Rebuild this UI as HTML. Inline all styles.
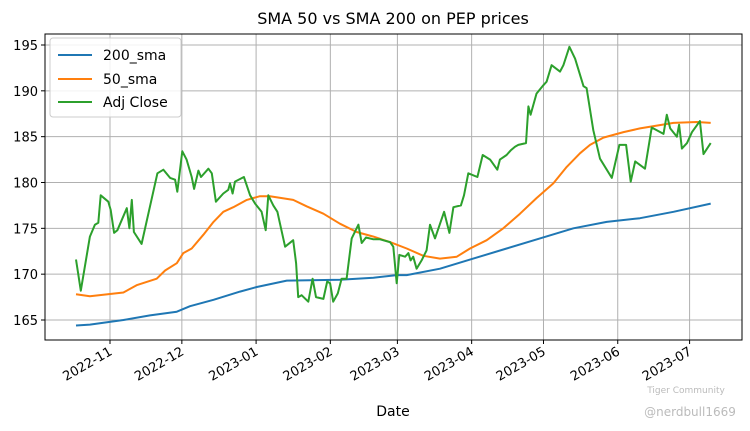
<!DOCTYPE html>
<html><head><meta charset="utf-8">
<style>
body{margin:0;background:#fff;}
svg{display:block;font-family:"DejaVu Sans","Liberation Sans",sans-serif;}
</style></head>
<body>
<svg id="chart" width="750" height="431" viewBox="0 0 750 431" xmlns="http://www.w3.org/2000/svg">
<text x="393" y="24" text-anchor="middle" font-size="16" fill="#000">SMA 50 vs SMA 200 on PEP prices</text>
<g id="grid"></g>
<g id="series"></g>
<rect x="45" y="34" width="697" height="306" fill="none" stroke="#000" stroke-width="1"/>
<g id="axes"></g>
<g>
<rect x="50" y="38" width="131" height="79" rx="3" fill="#fff" fill-opacity="0.85" stroke="#ccc"/>
<line x1="58" y1="55" x2="92" y2="55" stroke="#1f77b4" stroke-width="2"/>
<text x="103" y="60" font-size="14">200_sma</text>
<line x1="58" y1="79" x2="92" y2="79" stroke="#ff7f0e" stroke-width="2"/>
<text x="103" y="84" font-size="14">50_sma</text>
<line x1="58" y1="102" x2="92" y2="102" stroke="#2ca02c" stroke-width="2"/>
<text x="103" y="107" font-size="14">Adj Close</text>
</g>
<text x="393" y="416" text-anchor="middle" font-size="14">Date</text>
<text x="686" y="393" text-anchor="middle" font-size="9" fill="#bbb">Tiger Community</text>
<text x="690" y="416" text-anchor="middle" font-size="12" fill="#bbb">@nerdbull1669</text>
</svg>
<script>
// day offsets relative to 2022-11-01
const closeDays=[-14.2,-12.2,-8.4,-6.3,-4.9,-3.9,-0.7,0.3,1.7,3.1,7.0,8.1,9.1,10.0,13.2,19.8,22.3,25.1,27.2,28.1,30.2,32.0,34.1,35.1,36.9,38.0,41.1,42.5,44.2,47.3,49.4,50.1,51.2,52.2,55.9,58.5,60.6,63.3,65.0,66.1,68.2,69.9,71.0,73.1,76.5,77.7,78.6,80.0,82.8,84.6,86.0,89.1,90.7,91.9,93.2,95.1,96.7,98.8,100.9,103.7,105.1,106.9,110.0,112.7,116.9,118.3,119.7,120.8,123.2,124.6,125.5,126.6,128.0,130.1,132.2,133.6,135.7,139.5,141.7,143.4,146.5,147.8,149.6,153.4,155.6,158.7,161.7,162.8,165.6,167.3,169.1,170.5,173.7,174.7,175.6,178.1,180.9,182.3,184.4,187.9,189.3,191.8,194.2,197.7,199.0,201.8,204.6,209.5,212.7,215.5,217.4,219.3,223.4,226.2,231.1,232.5,233.9,236.7,237.6,238.8,240.9,243.0,246.3,247.8,250.8];
const closeVals=[171.6,168.2,174.1,175.4,175.6,178.6,177.9,177.0,174.5,174.8,177.2,175.0,178.1,174.6,173.3,181.0,181.4,180.5,180.3,179.0,183.4,182.5,180.6,179.3,181.3,180.6,181.5,181.0,177.9,178.8,179.2,179.9,178.8,180.1,180.6,178.6,177.7,176.8,174.8,178.6,177.5,176.8,175.5,173.0,173.7,171.2,167.5,167.7,167.0,169.5,167.5,167.3,169.2,169.0,167.0,167.9,169.5,169.5,173.9,175.4,173.4,174.0,173.8,173.8,173.5,173.0,169.0,172.1,171.9,172.3,171.5,171.9,170.6,171.5,172.6,175.4,173.9,176.8,174.5,177.3,177.5,178.6,181.0,180.6,183.0,182.5,181.4,182.5,183.0,183.5,183.9,184.1,184.3,188.3,187.4,189.7,190.6,191.0,192.8,192.1,192.8,194.8,193.5,190.5,190.3,185.7,182.6,180.5,184.1,184.1,180.1,182.3,181.5,186.0,185.3,187.4,185.9,185.0,186.3,183.7,184.3,185.5,186.7,183.1,184.3];
const sma50Days=[-14.2,-8.4,5.6,11.1,19.5,23.0,27.9,30.6,34.1,39.0,43.2,47.3,51.5,57.1,62.6,66.8,76.5,82.1,89.1,96.0,103.0,110.0,116.9,123.9,130.8,137.8,144.8,150.3,157.3,164.2,171.2,178.1,185.1,190.7,196.3,200.4,206.0,214.4,221.3,235.3,245.0,250.8];
const sma50Vals=[167.8,167.6,168.0,168.8,169.5,170.4,171.2,172.3,172.8,174.3,175.7,176.8,177.3,178.1,178.5,178.5,178.1,177.4,176.6,175.5,174.6,174.1,173.5,172.8,172.0,171.7,171.9,172.8,173.7,175.0,176.6,178.3,179.9,181.7,183.2,184.1,184.9,185.5,185.9,186.5,186.6,186.5];
const sma200Days=[-14.2,-8.4,5.6,16.7,27.9,33.4,43.2,54.3,61.3,73.8,96.0,110.0,119.7,123.9,137.8,151.7,165.6,179.5,193.5,207.4,221.3,235.3,250.8];
const sma200Vals=[164.4,164.5,165.0,165.5,165.9,166.5,167.2,168.1,168.6,169.3,169.4,169.6,169.9,169.9,170.6,171.7,172.8,173.9,175.0,175.7,176.1,176.8,177.7];
const yTicks=[165,170,175,180,185,190,195];
const xTickLabels=["2022-11","2022-12","2023-01","2023-02","2023-03","2023-04","2023-05","2023-06","2023-07"];
const xTickDays=[0,30,61,92,120,151,181,212,242];

const NS="http://www.w3.org/2000/svg";
const X=d=>110+d*2.395;
const Y=v=>320-(v-165)*9.167;
function mk(tag,attrs,parent){const e=document.createElementNS(NS,tag);for(const k in attrs)e.setAttribute(k,attrs[k]);parent.appendChild(e);return e;}
const grid=document.getElementById('grid'),axes=document.getElementById('axes'),ser=document.getElementById('series');
yTicks.forEach(v=>{
  const g=mk('line',{x1:45,x2:742,y1:Y(v),y2:Y(v),stroke:'#b0b0b0','stroke-width':1},grid);
  
  
  mk('line',{x1:41,x2:45,y1:Y(v),y2:Y(v),stroke:'#000'},axes);
  const t=mk('text',{x:38,y:Y(v)+5,'text-anchor':'end','font-size':13},axes);
  t.textContent=v;
  
  
});
xTickDays.forEach((d,i)=>{
  const x=X(d);
  const g=mk('line',{x1:x,x2:x,y1:34,y2:340,stroke:'#b0b0b0','stroke-width':1},grid);
  
  
  mk('line',{x1:x,x2:x,y1:340,y2:344,stroke:'#000'},axes);
  const t=mk('text',{x:x+3,y:354,'text-anchor':'end','font-size':13,transform:`rotate(-30 ${x+3} 354)`},axes);
  t.textContent=xTickLabels[i];
  
  
});
function line(days,vals,color,name){
  const p=mk('polyline',{points:days.map((d,i)=>X(d).toFixed(1)+','+Y(vals[i]).toFixed(1)).join(' '),fill:'none',stroke:color,'stroke-width':2,'stroke-linejoin':'round'},ser);
  
  
}
line(sma200Days,sma200Vals,'#1f77b4','sma-200-line');
line(sma50Days,sma50Vals,'#ff7f0e','sma-50-line');
line(closeDays,closeVals,'#2ca02c','adj-close-line');
</script>
</body></html>
